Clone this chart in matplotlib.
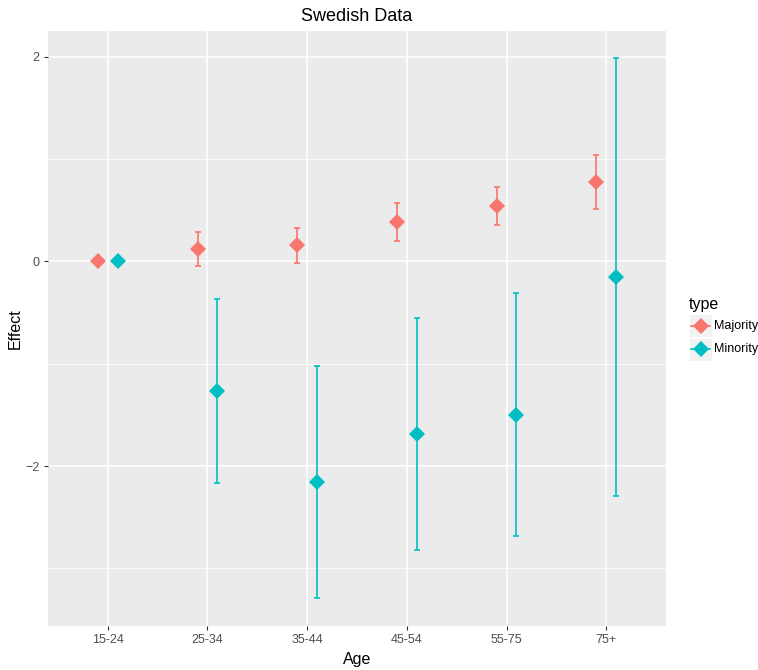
import numpy as np
import matplotlib
matplotlib.use("Agg")
import matplotlib.pyplot as plt
from matplotlib.lines import Line2D
from matplotlib.patches import Rectangle

plt.rcParams['font.family'] = ['Liberation Sans', 'DejaVu Sans']

ages = ["15-24", "25-34", "35-44", "45-54", "55-75", "75+"]
types = ["Majority", "Minority"]

maj_est = [0.0, 0.117, 0.159, 0.381, 0.540, 0.771]
maj_low = [0.0, -0.043, -0.014, 0.201, 0.354, 0.514]
maj_high = [0.0, 0.283, 0.328, 0.566, 0.726, 1.035]

min_est = [0.0, -1.267, -2.158, -1.690, -1.501, -0.156]
min_low = [0.0, -2.165, -3.291, -2.819, -2.683, -2.295]
min_high = [0.0, -0.365, -1.022, -0.554, -0.313, 1.982]

col_maj = "#F8766D"
col_min = "#00BFC4"

W, H = 758, 670
fig = plt.figure(figsize=(W / 100, H / 100), dpi=100)
ax = fig.add_axes([48 / W, 1 - 625.7 / H, (666 - 48) / W, (625.7 - 31) / H])
ax.set_facecolor("#EBEBEB")

x = np.arange(1, len(ages) + 1)
dodge = 0.1


def draw_series(xpos, est, low, high, color):
    est = np.array(est)
    low = np.array(low)
    high = np.array(high)
    has_err = high - low > 0
    ax.errorbar(xpos[has_err], est[has_err],
                yerr=[est[has_err] - low[has_err], high[has_err] - est[has_err]],
                fmt='none', ecolor=color, elinewidth=1.2, capsize=2, capthick=1.2, zorder=3)
    ax.plot(xpos, est, 'D', color=color, markersize=8.5, markeredgewidth=0, zorder=4)


draw_series(x - dodge, maj_est, maj_low, maj_high, col_maj)
draw_series(x + dodge, min_est, min_low, min_high, col_min)

ax.set_xlim(0.4, 6.6)
ax.set_ylim(-3.56, 2.25)
ax.set_xticks(x)
ax.set_xticklabels(ages)
ax.set_yticks([-2, 0, 2])
ax.set_yticks([-3, -1, 1], minor=True)
ax.grid(True, which='major', color='white', linewidth=1.1, zorder=0)
ax.grid(True, which='minor', axis='y', color='white', linewidth=0.55, zorder=0)
ax.set_axisbelow(True)
for s in ax.spines.values():
    s.set_visible(False)
ax.tick_params(axis='both', which='major', length=3, width=0.8, color='#333333',
               labelcolor='#4D4D4D', labelsize=9, pad=3)
ax.tick_params(axis='both', which='minor', length=0)

ax.set_xlabel("Age", fontsize=11.5, labelpad=4)
ax.set_ylabel("Effect", fontsize=11.5, labelpad=2)
ax.set_title("Swedish Data", fontsize=13, pad=7)

# legend drawn by hand, ggplot style (grey key boxes)
fig.text(689 / W, 1 - 304 / H, "type", fontsize=11.5, ha='left', va='center')
key_y = [326, 349]
for label, color, ky in zip(types, [col_maj, col_min], key_y):
    fig.patches.append(Rectangle((689 / W, 1 - (ky + 11.5) / H), 23 / W, 23 / H,
                                 transform=fig.transFigure, facecolor='#F2F2F2',
                                 edgecolor='white', linewidth=0.8))
    fig.lines.append(Line2D([691 / W, 710 / W], [1 - ky / H, 1 - ky / H],
                            transform=fig.transFigure, color=color, linewidth=1.2))
    fig.lines.append(Line2D([700.5 / W], [1 - ky / H], transform=fig.transFigure,
                            marker='D', color=color, markersize=8.5, markeredgewidth=0))
    fig.text(714 / W, 1 - ky / H, label, fontsize=9, ha='left', va='center')

fig.savefig("out.png", dpi=100)
